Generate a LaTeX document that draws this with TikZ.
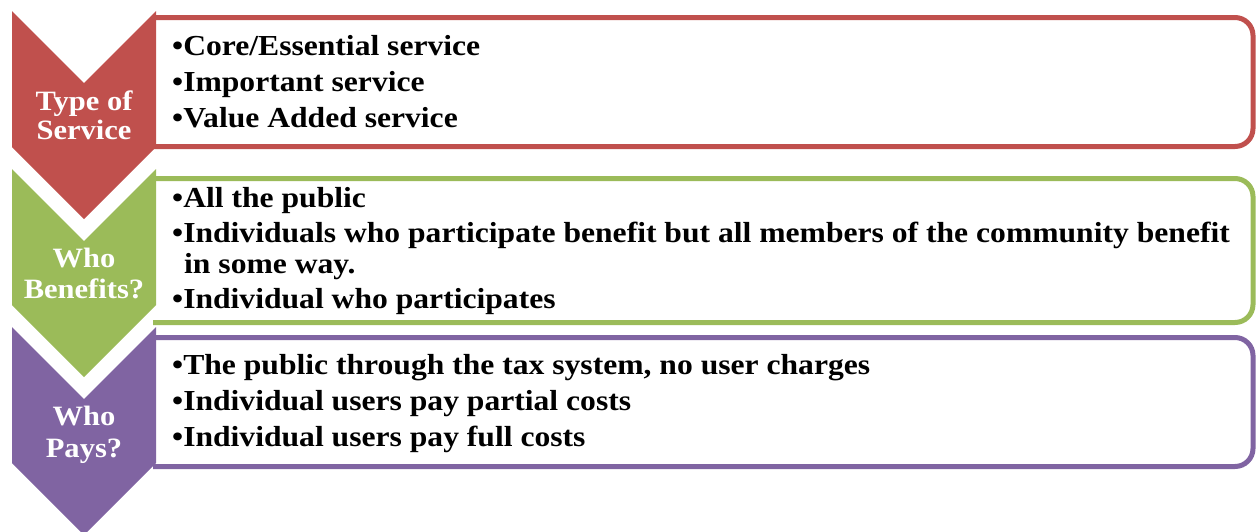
\documentclass[tikz,border=0pt]{standalone}
\usepackage{fontspec}
\setmainfont{Liberation Serif}[FakeStretch=1.09]
\definecolor{svcred}{HTML}{C0504D}
\definecolor{svcgreen}{HTML}{9BBB59}
\definecolor{svcpurple}{HTML}{8064A2}
\tikzset{
  panel/.style={draw=#1, line width=5pt, fill=white, rounded corners=18pt},
  item/.style={anchor=base west, inner sep=0pt, font=\fontsize{29}{35}\selectfont\bfseries},
  head/.style={anchor=base, inner sep=0pt, text=white, font=\fontsize{28}{30}\selectfont\bfseries},
}
\begin{document}
\begin{tikzpicture}[x=1pt, y=-1pt]
\useasboundingbox (0,0) rectangle (1256,531);
\clip (0,0) rectangle (1256,531);

% text panels, their left ends tucked under the chevrons
\begin{scope}
  \clip (153,0) rectangle (1256,531);
  \draw[panel=svcred]    (100,17.5)  rectangle (1253,146.5);
  \draw[panel=svcgreen]  (100,178.5) rectangle (1253,322.5);
  \draw[panel=svcpurple] (100,337.5) rectangle (1253,466.5);
\end{scope}

% downward chevrons
\fill[svcred]    (12,11)  -- (84,83)  -- (156,11)  -- (156,147) -- (84,219) -- (12,147) -- cycle;
\fill[svcgreen]  (12,169) -- (84,241) -- (156,169) -- (156,305) -- (84,377) -- (12,305) -- cycle;
\fill[svcpurple] (12,327) -- (84,399) -- (156,327) -- (156,463) -- (84,535) -- (12,463) -- cycle;

% chevron headings
\node[head] (typeA) at (84,110) {Type of};
\node[head] (typeB) at (84,139) {Service};
\node[head] (benA)  at (84,267) {Who};
\node[head] (benB)  at (84,298) {Benefits?};
\node[head] (payA)  at (84,425) {Who};
\node[head] (payB)  at (84,457) {Pays?};

% type of service
\node[item] (t1) at (172,55)  {•Core/Essential service};
\node[item] (t2) at (172,91)  {•Important service};
\node[item] (t3) at (172,127) {•Value Added service};

% who benefits
\node[item] (b1) at (172,207) {•All the public};
\node[item] (b2) at (172,242) {•Individuals who participate benefit but all members of the community benefit};
\node[item] (b2b) at (184,273) {in some way.};
\node[item] (b3) at (172,308) {•Individual who participates};

% who pays
\node[item] (p1) at (172,374) {•The public through the tax system, no user charges};
\node[item] (p2) at (172,410) {•Individual users pay partial costs};
\node[item] (p3) at (172,446) {•Individual users pay full costs};
\end{tikzpicture}
\end{document}
